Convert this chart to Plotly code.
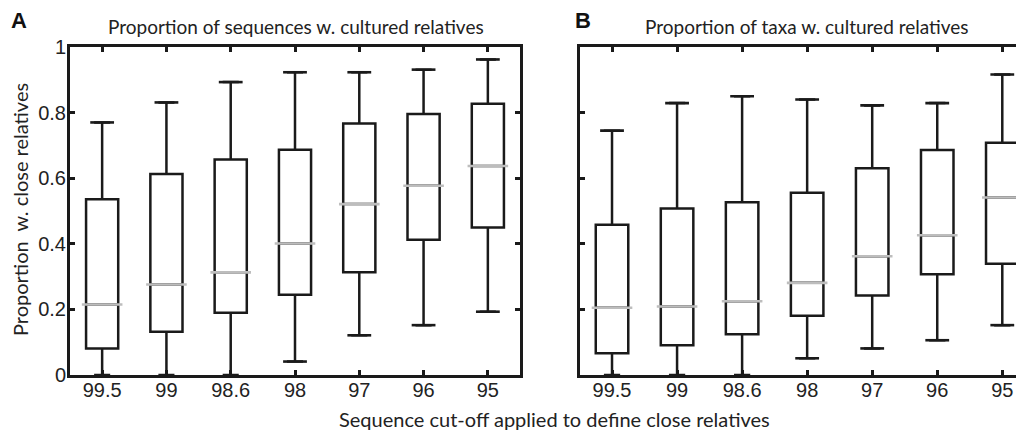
import plotly.graph_objects as go

categories = ["99.5", "99", "98.6", "98", "97", "96", "95"]
xpos = [1, 2, 3, 4, 5, 6, 7]

# Panel A: proportion of sequences w. cultured relatives
a_low = [0.0, 0.0, 0.0, 0.041, 0.121, 0.152, 0.193]
a_q1 = [0.081, 0.132, 0.190, 0.245, 0.313, 0.412, 0.450]
a_med = [0.215, 0.276, 0.313, 0.401, 0.521, 0.577, 0.637]
a_q3 = [0.536, 0.613, 0.657, 0.687, 0.767, 0.796, 0.827]
a_high = [0.770, 0.831, 0.893, 0.923, 0.923, 0.931, 0.962]

# Panel B: proportion of taxa w. cultured relatives
b_low = [0.0, 0.0, 0.0, 0.051, 0.081, 0.106, 0.152]
b_q1 = [0.066, 0.091, 0.124, 0.181, 0.242, 0.307, 0.339]
b_med = [0.205, 0.209, 0.225, 0.281, 0.362, 0.426, 0.541]
b_q3 = [0.458, 0.508, 0.527, 0.556, 0.630, 0.686, 0.708]
b_high = [0.745, 0.829, 0.850, 0.840, 0.822, 0.829, 0.916]

yticks = [0, 0.2, 0.4, 0.6, 0.8, 1]
yticktext = ["0", "0.2", "0.4", "0.6", "0.8", "1"]

# page body has an 8px margin; lay out in page pixels
OFF = 8
W, H = 1024 - OFF, 431 - OFF
PL, PT, PB = 70, 47, 375          # plot-area edges in page pixels
ML, MT = PL - OFF, PT - OFF
MB = H - (PB - OFF)
MR = 0
PW = W - ML - MR
PH = H - MT - MB


def px(x):
    return (x - PL) / PW


def py(y):
    return (PB - y) / PH


fig = go.Figure()

panels = [
    ("x", "y", a_low, a_q1, a_med, a_q3, a_high),
    ("x2", "y2", b_low, b_q1, b_med, b_q3, b_high),
]
for xa, ya, lo, q1, med, q3, hi in panels:
    fig.add_trace(go.Box(
        x=xpos, q1=q1, median=med, q3=q3, lowerfence=lo, upperfence=hi,
        width=0.5, boxpoints=False, fillcolor="white",
        line=dict(color="#1a1a1a", width=2.5), xaxis=xa, yaxis=ya,
        hoverinfo="skip", showlegend=False,
    ))
    cap_x = [x for x, v in zip(xpos, lo) if v > 0] + xpos
    cap_y = [v for v in lo if v > 0] + hi
    fig.add_trace(go.Scatter(
        x=cap_x, y=cap_y, mode="markers", xaxis=xa, yaxis=ya,
        marker=dict(symbol="line-ew", size=17, line=dict(color="#1a1a1a", width=2.6)),
        hoverinfo="skip", showlegend=False,
    ))
    fig.add_trace(go.Scatter(
        x=xpos, y=med, mode="markers", xaxis=xa, yaxis=ya,
        marker=dict(symbol="line-ew", size=29, line=dict(color="#bdbdbd", width=2.6)),
        hoverinfo="skip", showlegend=False,
    ))

tickfont = dict(family="Liberation Sans, Arial, sans-serif", size=20, color="#222")
axcommon = dict(showline=True, linewidth=3, linecolor="#1a1a1a", ticks="inside",
                ticklen=5, tickwidth=2.5, tickcolor="#1a1a1a", showgrid=False,
                zeroline=False, tickfont=tickfont)

fig.update_layout(
    width=W, height=H,
    margin=dict(l=ML, r=MR, t=MT, b=MB, pad=0),
    paper_bgcolor="white", plot_bgcolor="white",
    xaxis=dict(domain=[0, px(520)], range=[0.5, 7.5], tickvals=xpos, ticktext=categories,
               mirror="ticks", anchor="y", ticklabelstandoff=-5, **axcommon),
    yaxis=dict(domain=[0, 1], range=[0, 1], tickvals=yticks, ticktext=yticktext,
               mirror="ticks", anchor="x", ticklabelstandoff=-3, **axcommon),
    xaxis2=dict(domain=[px(579.5), 1], range=[0.5, 7 + (1024 - 1002.3) / 65.0],
                tickvals=xpos, ticktext=categories, mirror="ticks", anchor="y2",
                ticklabelstandoff=-5, **axcommon),
    yaxis2=dict(domain=[0, 1], range=[0, 1], tickvals=yticks, showticklabels=False,
                mirror=False, anchor="x2", **axcommon),
)

titlefont = dict(family="Lato, Open Sans, sans-serif", size=19, color="#222")
axtitlefont = dict(family="Lato, Open Sans, sans-serif", size=20, color="#222")
labelfont = dict(family="Liberation Sans, Arial, sans-serif", size=22, color="#111")
annotations = [
    dict(text="Proportion of sequences w. cultured relatives", x=px(296), y=py(26),
         xanchor="center", yanchor="middle", font=titlefont),
    dict(text="Proportion of taxa w. cultured relatives", x=px(807), y=py(26),
         xanchor="center", yanchor="middle", font=titlefont),
    dict(text="Sequence cut-off applied to define close relatives", x=px(554), y=py(419),
         xanchor="center", yanchor="middle", font=axtitlefont),
    dict(text="Proportion  w. close relatives", x=px(20), y=py(210), textangle=-90,
         xanchor="center", yanchor="middle", font=axtitlefont),
    dict(text="<b>A</b>", x=px(19), y=py(20), xanchor="center", yanchor="middle",
         font=labelfont),
    dict(text="<b>B</b>", x=px(583), y=py(20), xanchor="center", yanchor="middle",
         font=labelfont),
]
for a in annotations:
    a.update(xref="paper", yref="paper", showarrow=False)
fig.update_layout(annotations=annotations)

fig.write_html("out.html")
